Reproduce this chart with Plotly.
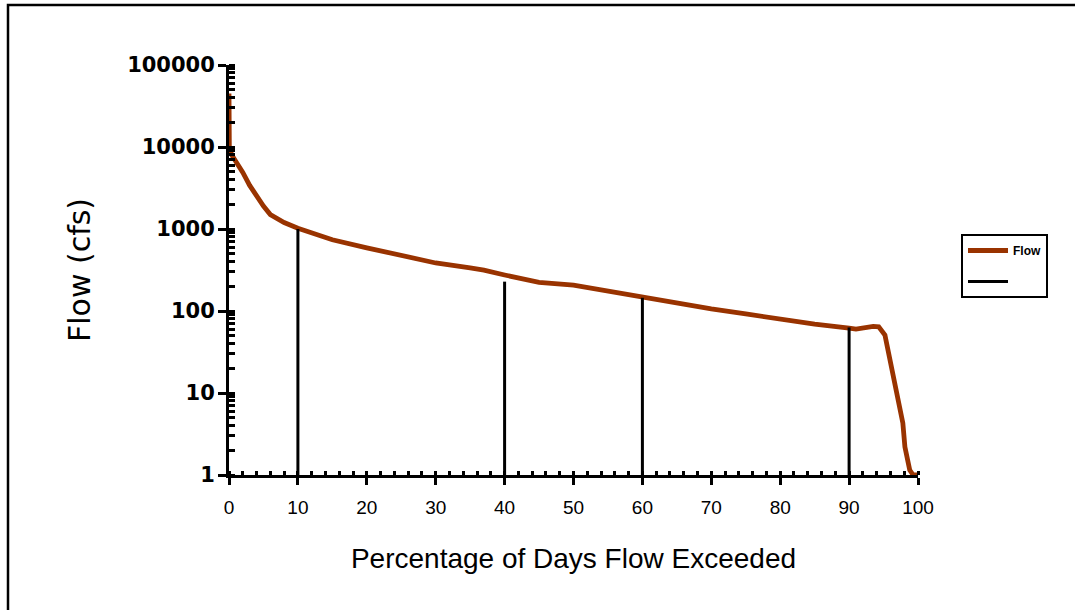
import plotly.graph_objects as go

# Flow duration curve
pct_exceeded = [0, 0.05, 0.4, 1, 2, 3, 4, 5, 6, 8, 10, 15, 20, 25, 30, 35, 37, 40, 45, 50, 55,
                60, 65, 70, 75, 77, 80, 85, 90, 91, 93.5, 94.3, 95.2, 95.9, 96.9, 97.8, 98.1,
                98.8, 99.3, 100]
flow_cfs = [45000, 10000, 8000, 6800, 4900, 3400, 2500, 1900, 1500, 1200, 1020, 740, 590, 470,
            385, 335, 315, 275, 224, 207, 175, 147, 126, 106, 92, 87, 78, 69, 62, 60, 65, 64,
            51, 27, 11, 4.3, 2.2, 1.15, 1.0, 1.0]

# Marker drop lines
mark_pct = [10, 40, 60, 90]
mark_flow = [1000, 228, 145, 63]
base_flow = 1

x_ticks = [0, 10, 20, 30, 40, 50, 60, 70, 80, 90, 100]
y_ticks = [1, 10, 100, 1000, 10000, 100000]

drop_x, drop_y = [], []
for px, fy in zip(mark_pct, mark_flow):
    drop_x += [px, px, None]
    drop_y += [base_flow, fy, None]

fig = go.Figure()
fig.add_trace(go.Scatter(x=pct_exceeded, y=flow_cfs, mode="lines", name="Flow",
                         line=dict(color="#993300", width=4.8), legendgroup="a"))
fig.add_trace(go.Scatter(x=drop_x, y=drop_y, mode="lines", name=" ",
                         line=dict(color="black", width=3), legendgroup="b"))

W, H = 1075, 610
L, R, T, B = 229, 157, 65, 135
pw, ph = W - L - R, H - T - B

def px_to_paper_x(p):
    return (p - L) / pw

def px_to_paper_y(p):
    return (H - B - p) / ph

fig.update_layout(
    width=W, height=H,
    margin=dict(l=L, r=R, t=T, b=B),
    paper_bgcolor="white", plot_bgcolor="white",
    showlegend=True,
    legend=dict(x=px_to_paper_x(961), y=px_to_paper_y(234), xanchor="left", yanchor="top",
                bordercolor="black", borderwidth=2, bgcolor="white",
                font=dict(family="Liberation Sans, Arial", size=12, color="black", weight="bold"),
                traceorder="grouped", tracegroupgap=12, itemwidth=40),
    xaxis=dict(range=[0, 100], tickvals=x_ticks, showgrid=False, zeroline=False,
               showline=True, linecolor="black", linewidth=3,
               ticks="outside", ticklen=7, tickwidth=3, tickcolor="black",
               ticklabelstandoff=6,
               minor=dict(dtick=2, ticks="inside", ticklen=4, tickwidth=3, tickcolor="black"),
               tickfont=dict(family="Liberation Sans, Arial", size=19, color="black"),
               title=dict(text="Percentage of Days Flow Exceeded",
                          font=dict(family="Liberation Sans, Arial", size=28, color="black"),
                          standoff=32)),
    yaxis=dict(type="log", range=[0, 5], tickvals=y_ticks,
               ticktext=[str(v) for v in y_ticks], showgrid=False, zeroline=False,
               showline=True, linecolor="black", linewidth=3,
               ticks="outside", ticklen=8, tickwidth=3, tickcolor="black",
               ticklabelstandoff=-1,
               minor=dict(dtick="D1", ticks="inside", ticklen=6, tickwidth=2.5, tickcolor="black"),
               tickfont=dict(family="DejaVu Sans", size=21, color="black", weight="bold"),
               title=dict(text="Flow (cfs)",
                          font=dict(family="Comic Sans MS, DejaVu Sans", size=30, color="black"),
                          standoff=28)),
    xaxis2=dict(range=[0, 100], tickvals=x_ticks, overlaying="x", anchor="y2", side="bottom",
                showgrid=False, zeroline=False, showline=False, showticklabels=False,
                ticks="inside", ticklen=5, tickwidth=3, tickcolor="black"),
    yaxis2=dict(type="log", range=[0, 5], tickvals=y_ticks, overlaying="y", anchor="x2",
                side="left", showgrid=False, zeroline=False, showline=False,
                showticklabels=False, ticks="inside", ticklen=8, tickwidth=3, tickcolor="black"),
    shapes=[dict(type="rect", xref="paper", yref="paper",
                 x0=px_to_paper_x(8), x1=px_to_paper_x(1090),
                 y0=px_to_paper_y(625), y1=px_to_paper_y(5),
                 line=dict(color="black", width=2.5), fillcolor="rgba(0,0,0,0)", layer="below")],
)

fig.write_html("out.html", config={"displayModeBar": False},
               post_script="document.body.style.margin='0';")
